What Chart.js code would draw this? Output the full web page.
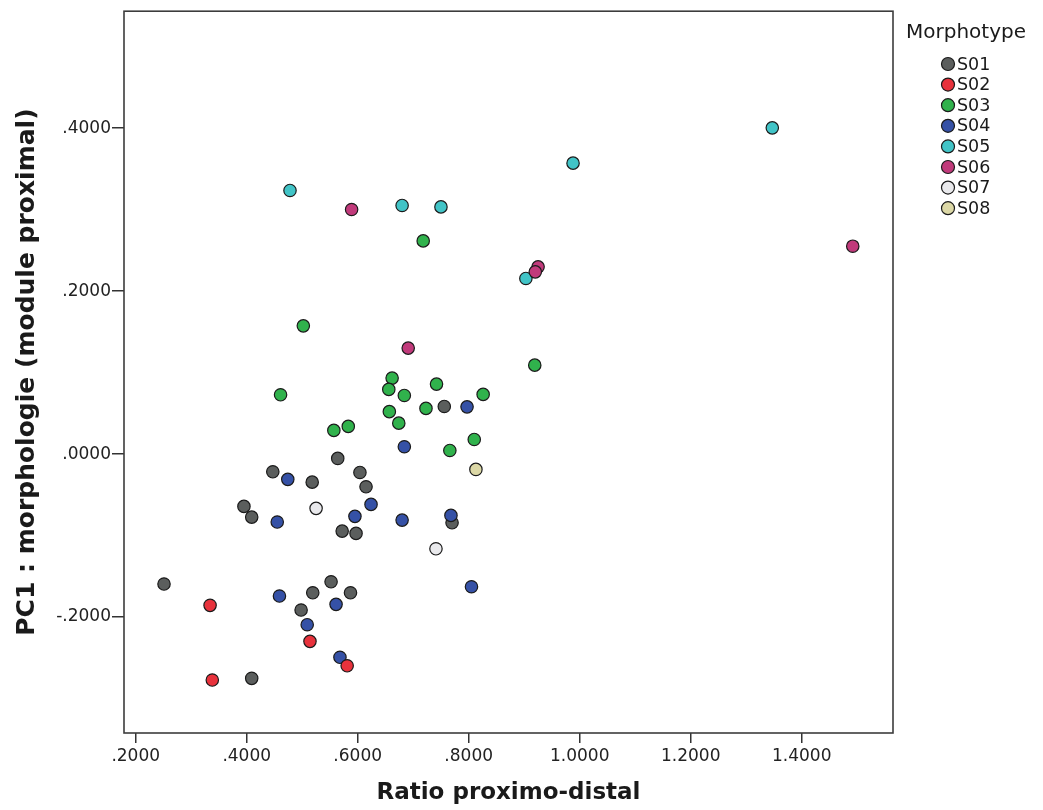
<!DOCTYPE html>
<html><head><meta charset="utf-8">
<script src="https://cdn.jsdelivr.net/npm/chart.js@4/dist/chart.umd.min.js"></script>
<style>html,body{margin:0;padding:0;background:#fff;} canvas{display:block;}</style>
</head><body>
<canvas id="c" width="1043" height="810"></canvas>
<script>
// ---- data ----
const morphotypes = ['S01','S02','S03','S04','S05','S06','S07','S08'];
const s01x = [0.564,0.447,0.518,0.604,0.615,0.395,0.409,0.572,0.597,0.251,0.519,0.552,0.587,0.498,0.409,0.756,0.770];
const s01y = [-0.0053,-0.0217,-0.0344,-0.0225,-0.0401,-0.0642,-0.0773,-0.0945,-0.0973,-0.1595,-0.1702,-0.1567,-0.1702,-0.1914,-0.2752,0.0585,-0.0843];
const s02x = [0.334,0.514,0.581,0.338];
const s02y = [-0.1856,-0.2298,-0.2598,-0.2773];
const s03x = [0.919,0.662,0.656,0.742,0.684,0.826,0.723,0.657,0.674,0.810,0.766,0.718,0.502,0.461,0.557,0.583];
const s03y = [0.1092,0.0933,0.0794,0.0859,0.0720,0.0733,0.0561,0.0521,0.0380,0.0180,0.0045,0.2617,0.1574,0.0728,0.0291,0.0340];
const s04x = [0.684,0.474,0.455,0.624,0.595,0.680,0.459,0.561,0.509,0.568,0.797,0.768,0.805];
const s04y = [0.0090,-0.0310,-0.0834,-0.0617,-0.0764,-0.0810,-0.1742,-0.1844,-0.2094,-0.2494,0.0580,-0.0752,-0.1628];
const s05x = [0.478,0.680,0.750,0.988,0.903,1.347];
const s05y = [0.3236,0.3052,0.3034,0.3571,0.2156,0.4004];
const s06x = [0.589,0.925,0.920,0.691,1.492];
const s06y = [0.3002,0.2298,0.2237,0.1301,0.2552];
const s07x = [0.525,0.741];
const s07y = [-0.0666,-0.1162];
const s08x = [0.813];
const s08y = [-0.0188];
const xTicks = [0.2,0.4,0.6,0.8,1.0,1.2,1.4];
const yTicks = [-0.2,0.0,0.2,0.4];

// ---- styling ----
const seriesX = [s01x,s02x,s03x,s04x,s05x,s06x,s07x,s08x];
const seriesY = [s01y,s02y,s03y,s04y,s05y,s06y,s07y,s08y];
const colors = ['#5b5e5d','#e8323c','#30b24c','#3551a6','#41c4c7','#c13a7b','#e9e9ec','#dcd8a6'];
const zRank = [0,3,1,2,4,5,6,7];
const FONT = '"DejaVu Sans", "Lucida Grande", sans-serif';
const fmt = v => { const s = Number(v).toFixed(4); return s.replace(/^(-?)0\./, '$1.'); };

const datasets = morphotypes.map((name, i) => ({
  label: name,
  data: seriesX[i].map((x, k) => ({x: x, y: seriesY[i][k]})),
  backgroundColor: colors[i],
  borderColor: '#1b1b1b',
  borderWidth: 1.2,
  pointRadius: 6.2,
  pointHoverRadius: 6.2,
  order: 10 - zRank[i]
}));

const framePlugin = {
  id: 'frame',
  beforeDatasetsDraw(chart) {
    const {ctx, chartArea: a} = chart;
    ctx.save();
    ctx.strokeStyle = '#3c3c3c';
    ctx.lineWidth = 1.6;
    ctx.strokeRect(a.left, a.top, a.right - a.left, a.bottom - a.top);
    ctx.restore();
  }
};

const legendPlugin = {
  id: 'spssLegend',
  afterDraw(chart) {
    const ctx = chart.ctx;
    ctx.save();
    ctx.fillStyle = '#1a1a1a';
    ctx.textBaseline = 'middle';
    ctx.textAlign = 'left';
    ctx.font = '20px ' + FONT;
    ctx.fillText('Morphotype', 906, 33);
    ctx.font = '17.5px ' + FONT;
    chart.data.datasets.forEach((ds, i) => {
      const y = 64 + i * 20.6;
      ctx.beginPath();
      ctx.arc(948, y, 6.5, 0, Math.PI * 2);
      ctx.fillStyle = ds.backgroundColor;
      ctx.fill();
      ctx.lineWidth = 1.2;
      ctx.strokeStyle = '#1b1b1b';
      ctx.stroke();
      ctx.fillStyle = '#1a1a1a';
      ctx.fillText(ds.label, 957, y + 1);
    });
    ctx.restore();
  }
};

new Chart(document.getElementById('c'), {
  type: 'scatter',
  data: {datasets},
  plugins: [framePlugin, legendPlugin],
  options: {
    responsive: false,
    animation: false,
    devicePixelRatio: 1,
    layout: {padding: {left: 0, top: 11, right: 150, bottom: 0}},
    plugins: {legend: {display: false}, tooltip: {enabled: false}},
    scales: {
      x: {
        type: 'linear', position: 'bottom', bounds: 'data',
        min: 0.1789, max: 1.5645,
        afterBuildTicks: s => { s.ticks = xTicks.map(v => ({value: v})); },
        afterFit: s => { s.height = 77; },
        border: {display: false},
        grid: {drawOnChartArea: false, drawTicks: true, tickLength: 10, color: '#333', lineWidth: 1.5},
        ticks: {autoSkip: false, maxRotation: 0, padding: 3, color: '#222',
                font: {family: FONT, size: 17}, callback: v => fmt(v)},
        title: {display: true, text: 'Ratio proximo-distal', color: '#1a1a1a',
                font: {family: FONT, size: 23, weight: 'bold'}, padding: {top: 4, bottom: 3}}
      },
      y: {
        type: 'linear', position: 'left', bounds: 'data',
        min: -0.3423, max: 0.5436,
        afterBuildTicks: s => { s.ticks = yTicks.map(v => ({value: v})); },
        afterFit: s => { s.width = 124; },
        border: {display: false},
        grid: {drawOnChartArea: false, drawTicks: true, tickLength: 12, color: '#333', lineWidth: 1.5},
        ticks: {autoSkip: false, padding: 1, color: '#222',
                font: {family: FONT, size: 17}, callback: v => fmt(v)},
        title: {display: true, text: 'PC1 : morphologie (module proximal)', color: '#1a1a1a',
                font: {family: FONT, size: 25, weight: 'bold'}, padding: {top: 12, bottom: 4}}
      }
    }
  }
});
</script>
</body></html>
